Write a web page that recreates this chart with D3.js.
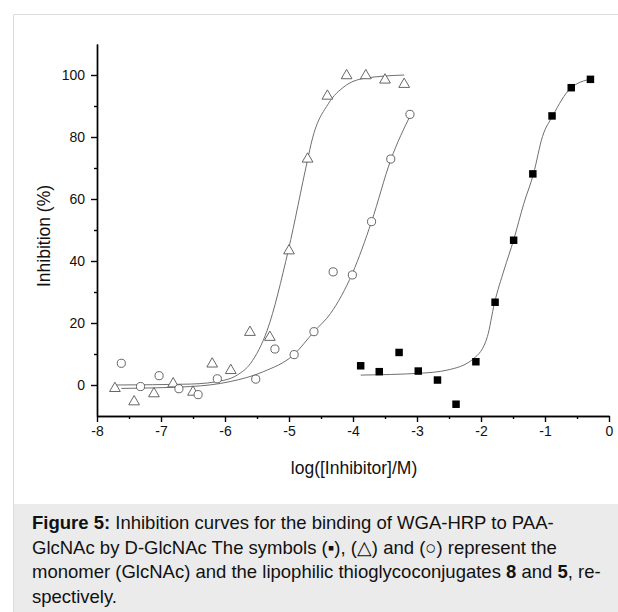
<!DOCTYPE html>
<html>
<head>
<meta charset="utf-8">
<script src="https://cdnjs.cloudflare.com/ajax/libs/d3/7.8.5/d3.min.js"></script>
<style>
  body { margin: 0; background: #fff; }
  svg { display: block; font-family: "Liberation Sans", Arial, sans-serif; }
</style>
</head>
<body>
<div id="chart"></div>
<script>
// ticks
var xTicks = [-8, -7, -6, -5, -4, -3, -2, -1, 0];
var xMinor = [-7.5, -6.5, -5.5, -4.5, -3.5, -2.5, -1.5, -0.5];
var yTicks = [0, 20, 40, 60, 80, 100];
var yMinor = [10, 30, 50, 70, 90];

// conjugate 8 (triangles)
var triX = [-7.72, -7.42, -7.11, -6.81, -6.50, -6.20, -5.91, -5.61, -5.30, -5.00, -4.71, -4.40, -4.10, -3.80, -3.50, -3.20];
var triY = [-1.1, -5.4, -2.8, 0.4, -2.3, 6.8, 4.7, 17.0, 15.4, 43.3, 72.9, 93.2, 99.8, 99.8, 98.4, 97.0];
var triFitX = [-7.72, -6.54, -6.0, -5.81, -5.6, -5.34, -5.01, -4.71, -4.64, -4.38, -4.14, -3.83, -3.20];
var triFitY = [0, 0.3, 1.6, 3.2, 7.0, 17.7, 43.5, 72.6, 79.0, 90.9, 96.2, 98.9, 100];

// conjugate 5 (circles)
var cirX = [-7.62, -7.32, -7.03, -6.72, -6.42, -6.12, -5.52, -5.22, -4.92, -4.61, -4.31, -4.01, -3.71, -3.41, -3.11];
var cirY = [7.0, -0.5, 3.0, -1.2, -3.1, 2.0, 1.9, 11.6, 9.8, 17.2, 36.5, 35.5, 52.7, 72.9, 87.3];
var cirFitX = [-7.62, -6.54, -5.92, -5.40, -4.93, -4.61, -4.35, -4.01, -3.71, -3.41, -3.10];
var cirFitY = [-1.1, -0.5, 1.1, 4.3, 9.7, 17.2, 23.1, 36.0, 52.7, 72.6, 87.1];

// monomer GlcNAc (squares)
var sqX = [-3.88, -3.59, -3.28, -2.98, -2.68, -2.39, -2.08, -1.78, -1.49, -1.19, -0.89, -0.59, -0.29];
var sqY = [6.2, 4.3, 10.5, 4.5, 1.6, -6.2, 7.5, 26.7, 46.7, 68.1, 86.8, 95.9, 98.6];
var sqFitX = [-3.88, -2.95, -2.53, -2.11, -1.90, -1.79, -1.64, -1.49, -1.33, -1.18, -1.04, -0.88, -0.60, -0.28];
var sqFitY = [3.2, 3.8, 4.8, 8.6, 15.6, 26.4, 37.1, 46.8, 58.6, 68.1, 80.1, 86.8, 95.7, 98.7];

var width = 618, height = 612;

var svg = d3.select("#chart").append("svg")
    .attr("width", width)
    .attr("height", height);

// frame + caption box
svg.append("path")
    .attr("d", "M13.5," + height + "V14.5H" + width)
    .attr("fill", "none")
    .attr("stroke", "#dcdcdc");
svg.append("rect")
    .attr("x", 14).attr("y", 504)
    .attr("width", width - 14).attr("height", height - 504)
    .attr("fill", "#ebebeb");

var x = d3.scaleLinear().domain([-8, 0]).range([97, 609]);
var y = d3.scaleLinear().domain([-10, 110]).range([416, 44]);

var zip = function(xs, ys){
    return xs.map(function(v, i){ return [v, ys[i]]; });
};

// axes
svg.append("g").attr("transform", "translate(0,416)")
    .call(d3.axisBottom(x).tickValues(xTicks).tickSize(6).tickSizeOuter(0).tickPadding(4)
        .tickFormat(function(d){ return String(d); }));
svg.append("g").attr("transform", "translate(0,416)")
    .call(d3.axisBottom(x).tickValues(xMinor).tickSize(3).tickSizeOuter(0).tickFormat(""));

svg.append("g").attr("transform", "translate(97,0)")
    .call(d3.axisLeft(y).tickValues(yTicks).tickSize(6).tickSizeOuter(0).tickPadding(6)
        .tickFormat(function(d){ return String(d); }));
svg.append("g").attr("transform", "translate(97,0)")
    .call(d3.axisLeft(y).tickValues(yMinor).tickSize(3).tickSizeOuter(0).tickFormat(""));

svg.selectAll(".domain, .tick line").attr("stroke", "#000").attr("stroke-width", 1.4);
svg.selectAll(".tick text")
    .attr("font-family", "Liberation Sans, Arial, sans-serif")
    .attr("font-size", 14)
    .attr("fill", "#111");

svg.append("text")
    .attr("x", 354).attr("y", 474)
    .attr("text-anchor", "middle")
    .attr("font-size", 17.5)
    .attr("fill", "#111")
    .text("log([Inhibitor]/M)");

svg.append("text")
    .attr("transform", "translate(50,236) rotate(-90)")
    .attr("text-anchor", "middle")
    .attr("font-size", 17.5)
    .attr("fill", "#111")
    .text("Inhibition (%)");

// fitted curves
var line = d3.line()
    .x(function(d){ return x(d[0]); })
    .y(function(d){ return y(d[1]); })
    .curve(d3.curveMonotoneX);

[zip(triFitX, triFitY), zip(cirFitX, cirFitY), zip(sqFitX, sqFitY)].forEach(function(pts){
    svg.append("path")
        .attr("d", line(pts))
        .attr("fill", "none")
        .attr("stroke", "#6f6f6f")
        .attr("stroke-width", 1);
});

// markers
var drawPoints = function(pts, type, size, fill, stroke){
    svg.append("g").selectAll("path")
        .data(pts)
        .enter().append("path")
        .attr("transform", function(d){ return "translate(" + x(d[0]) + "," + y(d[1]) + ")"; })
        .attr("d", d3.symbol().type(type).size(size))
        .attr("fill", fill)
        .attr("stroke", stroke)
        .attr("stroke-width", 0.9);
};

drawPoints(zip(triX, triY), d3.symbolTriangle, 50, "#fff", "#555");
drawPoints(zip(cirX, cirY), d3.symbolCircle, 52, "#fff", "#555");
drawPoints(zip(sqX, sqY), d3.symbolSquare, 56, "#000", "none");

// caption
var caption = [
    [["Figure 5:", true], [" Inhibition curves for the binding of WGA-HRP to PAA-", false]],
    [["GlcNAc by D-GlcNAc The symbols (\u25AA), (\u25B3) and (\u25CB) represent the", false]],
    [["monomer (GlcNAc) and the lipophilic thioglycoconjugates ", false], ["8", true], [" and ", false], ["5", true], [", re-", false]],
    [["spectively.", false]]
];

var capText = svg.append("text")
    .attr("font-size", 18.5)
    .attr("fill", "#111");

caption.forEach(function(parts, i){
    parts.forEach(function(p, j){
        var t = capText.append("tspan")
            .attr("font-weight", p[1] ? "bold" : null)
            .text(p[0]);
        // first chunk of each row carries the position
        if (j == 0) t.attr("x", 32).attr("y", 529 + i * 24.5);
    });
});
</script>
</body>
</html>
